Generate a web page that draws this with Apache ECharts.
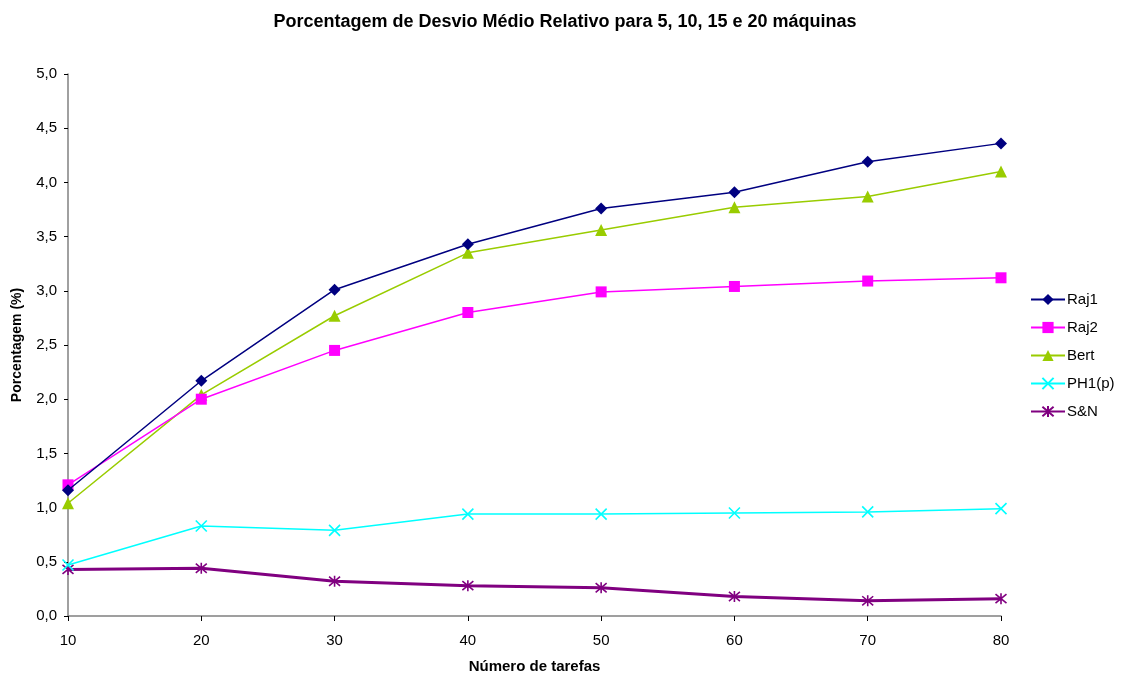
<!DOCTYPE html>
<html>
<head>
<meta charset="utf-8">
<script src="https://cdn.jsdelivr.net/npm/echarts@6/dist/echarts.min.js"></script>
<style>
  html, body { margin: 0; padding: 0; background: #fff; }
  #chart { width: 1121px; height: 675px; }
</style>
</head>
<body>
<div id="chart"></div>
<script>
// Number of jobs (x positions)
const tarefas = [10, 20, 30, 40, 50, 60, 70, 80];

// Average relative deviation (%) per heuristic
const raj1 = [1.16, 2.17, 3.01, 3.43, 3.76, 3.91, 4.19, 4.36];
const raj2 = [1.21, 2.00, 2.45, 2.80, 2.99, 3.04, 3.09, 3.12];
const bert = [1.04, 2.04, 2.77, 3.35, 3.56, 3.77, 3.87, 4.10];
const ph1p = [0.47, 0.83, 0.79, 0.94, 0.94, 0.95, 0.96, 0.99];
const sn   = [0.43, 0.44, 0.32, 0.28, 0.26, 0.18, 0.14, 0.16];

const seriesNames = ['Raj1', 'Raj2', 'Bert', 'PH1(p)', 'S&N'];

const FONT = '"Liberation Sans", Arial, sans-serif';

function pairs(vals) {
  return tarefas.map((x, i) => [x, vals[i]]);
}

const crossPath = 'path://M0 0 L10 10 M10 0 L0 10';
const starPath = 'path://M0 0 L10 10 M10 0 L0 10 M5 -1 L5 11';

const chart = echarts.init(document.getElementById('chart'), null, { renderer: 'canvas' });

chart.setOption({
  animation: false,
  backgroundColor: '#ffffff',
  title: {
    text: 'Porcentagem de Desvio Médio Relativo para 5, 10, 15 e 20 máquinas',
    left: 560,
    textAlign: 'center',
    top: 8,
    textStyle: { fontFamily: FONT, fontSize: 18, fontWeight: 'bold', color: '#000' }
  },
  legend: {
    orient: 'vertical',
    left: 1025,
    top: 287,
    itemWidth: 34,
    itemHeight: 14,
    itemGap: 13,
    textStyle: { fontFamily: FONT, fontSize: 15, color: '#000', padding: [0, 0, 0, -3] },
    data: seriesNames
  },
  grid: {
    left: 68, right: 120, top: 74, bottom: 59,
    containLabel: false,
    outerBoundsMode: 'none'
  },
  xAxis: {
    type: 'value',
    min: 10,
    max: 80,
    interval: 10,
    name: 'Número de tarefas',
    nameLocation: 'middle',
    nameGap: 43,
    nameTextStyle: { fontFamily: FONT, fontSize: 15, fontWeight: 'bold', color: '#000' },
    axisLine: { lineStyle: { color: '#808080', width: 1.5 } },
    axisTick: { show: true, length: 5, lineStyle: { color: '#000' } },
    axisLabel: { fontFamily: FONT, fontSize: 15, color: '#000', margin: 17 },
    splitLine: { show: false }
  },
  yAxis: {
    type: 'value',
    min: 0,
    max: 5,
    interval: 0.5,
    name: 'Porcentagem (%)',
    nameLocation: 'middle',
    nameGap: 44,
    nameRotate: 90,
    nameTextStyle: { fontFamily: FONT, fontSize: 14, fontWeight: 'bold', color: '#000' },
    axisLine: { show: true, lineStyle: { color: '#808080', width: 1.5 } },
    axisTick: { show: true, length: 4, lineStyle: { color: '#000' } },
    axisLabel: {
      fontFamily: FONT, fontSize: 15, color: '#000', margin: 11,
      formatter: v => v.toFixed(1).replace('.', ',')
    },
    splitLine: { show: false }
  },
  series: [
    {
      name: 'Raj1', type: 'line', data: pairs(raj1),
      color: '#000080',
      lineStyle: { width: 1.5, color: '#000080' },
      symbol: 'diamond', symbolSize: 12,
      itemStyle: { color: '#000080' }, z: 5
    },
    {
      name: 'Raj2', type: 'line', data: pairs(raj2),
      color: '#FF00FF',
      lineStyle: { width: 1.5, color: '#FF00FF' },
      symbol: 'rect', symbolSize: 11,
      itemStyle: { color: '#FF00FF' }, z: 4
    },
    {
      name: 'Bert', type: 'line', data: pairs(bert),
      color: '#99CC00',
      lineStyle: { width: 1.5, color: '#99CC00' },
      symbol: 'triangle', symbolSize: 12,
      itemStyle: { color: '#99CC00' }, z: 3
    },
    {
      name: 'PH1(p)', type: 'line', data: pairs(ph1p),
      color: '#00FFFF',
      lineStyle: { width: 1.5, color: '#00FFFF' },
      symbol: crossPath, symbolSize: 11,
      itemStyle: { color: 'rgba(0,0,0,0)', borderColor: '#00FFFF', borderWidth: 1.6 }, z: 2
    },
    {
      name: 'S&N', type: 'line', data: pairs(sn),
      color: '#800080',
      lineStyle: { width: 3, color: '#800080' },
      symbol: starPath, symbolSize: 11,
      itemStyle: { color: 'rgba(0,0,0,0)', borderColor: '#800080', borderWidth: 1.6 }, z: 1
    }
  ]
});
</script>
</body>
</html>
